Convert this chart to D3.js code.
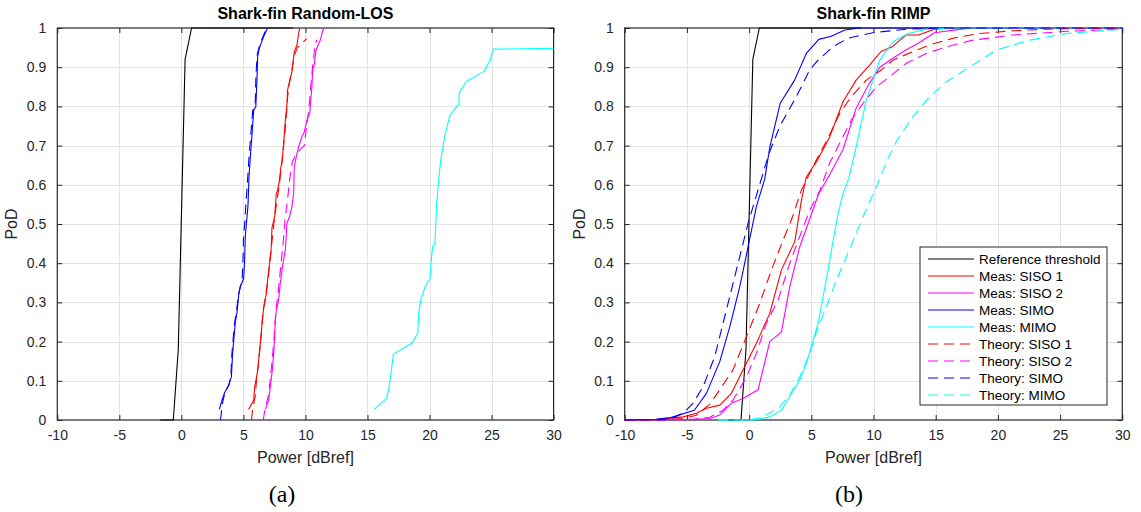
<!DOCTYPE html>
<html>
<head>
<meta charset="utf-8">
<script src="https://cdn.jsdelivr.net/npm/d3@7"></script>
<style>
  html, body { margin: 0; padding: 0; background: #fff; }
  svg { display: block; font-family: "Liberation Sans", Arial, Helvetica, sans-serif; }
</style>
</head>
<body>
<svg id="fig" width="1141" height="512"></svg>
<script>
// ---- axis ticks ----
const ticksX = [-10, -5, 0, 5, 10, 15, 20, 25, 30];
const tickLabelsX = ["-10", "-5", "0", "5", "10", "15", "20", "25", "30"];
const ticksY = [0, 0.1, 0.2, 0.3, 0.4, 0.5, 0.6, 0.7, 0.8, 0.9, 1];
const tickLabelsY = ["0", "0.1", "0.2", "0.3", "0.4", "0.5", "0.6", "0.7", "0.8", "0.9", "1"];

// ---- reference threshold (both panels) ----
const refX = [-1.7, -0.65, -0.25, 0.3, 0.82, 9];
const refP = [0, 0, 0.18, 0.92, 1, 1];

// ---- panel (a): Random-LOS, measured ----
const losSiso1X = [5.42, 5.83, 5.91, 6.04, 6.15, 6.31, 6.44, 6.52, 6.63, 6.85, 6.95, 7.11, 7.22, 7.3, 7.52, 7.65, 7.76, 7.87, 8.03, 8.13, 8.24, 8.38, 8.51, 8.56, 8.72, 8.91, 9.1, 9.32, 9.45, 9.53];
const losSiso1P = [0.027, 0.051, 0.085, 0.106, 0.128, 0.179, 0.221, 0.255, 0.285, 0.323, 0.357, 0.40, 0.425, 0.49, 0.519, 0.578, 0.587, 0.604, 0.646, 0.663, 0.706, 0.765, 0.804, 0.842, 0.863, 0.889, 0.94, 0.957, 0.986, 1.0];
const losSiso2X = [6.77, 7.03, 7.17, 7.33, 7.44, 7.52, 7.57, 7.65, 7.84, 7.97, 8.19, 8.38, 8.51, 8.72, 8.91, 9.05, 9.1, 9.26, 9.45, 9.72, 9.91, 10.12, 10.34, 10.52, 10.58, 10.71, 10.85, 11.19, 11.41, 11.5];
const losSiso2P = [0.027, 0.05, 0.085, 0.128, 0.17, 0.213, 0.255, 0.28, 0.306, 0.349, 0.4, 0.434, 0.502, 0.519, 0.544, 0.578, 0.646, 0.672, 0.697, 0.723, 0.735, 0.765, 0.782, 0.85, 0.893, 0.906, 0.944, 0.969, 0.995, 1.0];
const losSimoX = [3.06, 3.28, 3.46, 3.81, 4.03, 4.13, 4.21, 4.35, 4.48, 4.62, 4.75, 5.02, 5.1, 5.15, 5.29, 5.37, 5.45, 5.56, 5.66, 5.83, 6.0, 6.09, 6.15, 6.28, 6.63, 6.95];
const losSimoP = [0.027, 0.051, 0.068, 0.089, 0.11, 0.17, 0.2, 0.25, 0.274, 0.319, 0.34, 0.361, 0.408, 0.468, 0.519, 0.548, 0.62, 0.672, 0.714, 0.79, 0.8, 0.867, 0.927, 0.948, 0.978, 1.0];
const losMimoX = [15.54, 16.55, 16.77, 17.09, 18.57, 19.05, 19.13, 19.29, 19.64, 20.04, 20.12, 20.25, 20.44, 20.58, 20.71, 20.9, 21.25, 21.65, 22.18, 22.37, 22.4, 22.94, 24.41, 24.87, 25.13, 30];
const losMimoP = [0.027, 0.055, 0.089, 0.168, 0.196, 0.221, 0.272, 0.306, 0.34, 0.361, 0.4, 0.442, 0.451, 0.553, 0.604, 0.663, 0.727, 0.778, 0.799, 0.806, 0.835, 0.863, 0.89, 0.917, 0.946, 0.948];

// ---- panel (a): Random-LOS, theory ----
const losThSiso1X = [5.65, 5.75, 5.95, 6.05, 6.2, 6.35, 6.5, 6.6, 6.8, 7.0, 7.1, 7.25, 7.45, 7.7, 7.9, 8.0, 8.15, 8.3, 8.45, 8.55, 8.7, 8.95, 9.1, 9.35, 10.1];
const losThSiso1P = [0, 0.03, 0.06, 0.1, 0.14, 0.19, 0.24, 0.28, 0.32, 0.36, 0.40, 0.44, 0.5, 0.56, 0.6, 0.63, 0.67, 0.72, 0.77, 0.82, 0.86, 0.9, 0.93, 0.95, 0.973];
const losThSiso2X = [6.6, 6.75, 7.0, 7.15, 7.3, 7.45, 7.55, 7.7, 7.85, 8.0, 8.2, 8.35, 8.55, 8.75, 8.95, 9.3, 9.9, 10.1, 10.3, 10.45, 10.6, 10.75, 10.9];
const losThSiso2P = [0, 0.03, 0.06, 0.1, 0.15, 0.2, 0.25, 0.3, 0.34, 0.39, 0.45, 0.51, 0.56, 0.62, 0.66, 0.68, 0.7, 0.75, 0.8, 0.86, 0.91, 0.95, 0.97];
const losThSimoX = [3.15, 3.3, 3.5, 3.85, 4.0, 4.05, 4.15, 4.3, 4.45, 4.6, 4.9, 4.98, 5.0, 5.1, 5.2, 5.35, 5.45, 5.55, 5.75, 5.95, 6.0, 6.1, 6.25, 6.6, 6.9];
const losThSimoP = [0.0, 0.04, 0.07, 0.09, 0.12, 0.16, 0.2, 0.25, 0.28, 0.32, 0.36, 0.42, 0.46, 0.5, 0.55, 0.62, 0.67, 0.71, 0.79, 0.8, 0.87, 0.93, 0.95, 0.98, 1.0];

// ---- panel (b): RIMP, measured ----
const rimpSiso1X = [-10, -7.5, -5.3, -4.24, -3.43, -2.36, -1.42, -0.48, 0.59, 1.66, 2.6, 3.67, 4.21, 4.6, 5.5, 6.45, 7.55, 8.6, 9.7, 10.6, 11.5, 12.6, 13.6, 14.9, 16.5, 30];
const rimpSiso1P = [0, 0.001, 0.008, 0.017, 0.03, 0.038, 0.068, 0.128, 0.196, 0.272, 0.383, 0.455, 0.561, 0.62, 0.663, 0.72, 0.812, 0.867, 0.906, 0.94, 0.952, 0.982, 0.982, 0.997, 1.0, 1.0];
const rimpSiso2X = [-10, -4.5, -3.16, -2.36, -1.42, -0.48, 0.72, 1.66, 2.6, 3.27, 4.07, 4.75, 5.55, 6.55, 7.55, 8.6, 9.6, 10.5, 11.55, 12.6, 13.6, 14.9, 17.5, 30];
const rimpSiso2P = [0, 0.001, 0.004, 0.013, 0.043, 0.055, 0.077, 0.2, 0.225, 0.34, 0.442, 0.502, 0.574, 0.63, 0.69, 0.795, 0.855, 0.9, 0.923, 0.944, 0.961, 0.988, 0.999, 1.0];
const rimpSimoX = [-10, -7.5, -6.3, -4.4, -3.43, -2.36, -1.55, -0.75, -0.08, 0.59, 1.26, 1.67, 2.5, 3.66, 4.6, 5.6, 6.6, 7.7, 8.9, 30];
const rimpSimoP = [0, 0.002, 0.006, 0.025, 0.068, 0.149, 0.238, 0.34, 0.442, 0.545, 0.615, 0.697, 0.808, 0.867, 0.935, 0.971, 0.979, 0.995, 1.0, 1.0];
const rimpMimoX = [-2.5, 0.46, 1.67, 2.6, 3.27, 4.07, 4.61, 5.15, 5.55, 5.95, 6.35, 6.76, 7.16, 7.56, 8.0, 8.49, 9.42, 10.5, 11.57, 12.78, 14.25, 16.4, 30];
const rimpMimoP = [0, 0, 0.008, 0.025, 0.06, 0.102, 0.145, 0.204, 0.247, 0.315, 0.383, 0.459, 0.527, 0.578, 0.615, 0.68, 0.816, 0.918, 0.965, 0.986, 0.997, 1.0, 1.0];

// ---- panel (b): RIMP, theory ----
const rimpThSiso1X = [-10, -6.5, -5.3, -4.24, -3.17, -2.36, -1.29, -0.21, 0.86, 1.8, 2.73, 3.4, 4.21, 5.4, 6.47, 7.28, 8.22, 9.42, 10.63, 11.57, 13.18, 14.52, 16.39, 18.54, 21.2, 23.9, 30];
const rimpThSiso1P = [0, 0.001, 0.004, 0.012, 0.04, 0.077, 0.128, 0.213, 0.298, 0.383, 0.459, 0.51, 0.587, 0.663, 0.727, 0.782, 0.825, 0.867, 0.893, 0.918, 0.94, 0.957, 0.974, 0.986, 0.993, 0.997, 1.0];
const rimpThSiso2X = [-10, -4.5, -3.16, -2.09, -1.29, -0.21, 0.59, 1.39, 2.33, 3.27, 4.07, 4.88, 5.68, 6.47, 7.41, 8.22, 9.16, 10.23, 11.3, 12.64, 14.25, 15.86, 18.0, 21.2, 25.2, 30];
const rimpThSiso2P = [0, 0.002, 0.007, 0.025, 0.051, 0.11, 0.17, 0.247, 0.306, 0.4, 0.468, 0.536, 0.585, 0.655, 0.714, 0.765, 0.808, 0.85, 0.876, 0.91, 0.935, 0.952, 0.969, 0.982, 0.991, 0.997];
const rimpThSimoX = [-10, -7, -6.2, -5.2, -4.5, -3.7, -2.76, -2.09, -1.42, -0.75, -0.08, 0.72, 1.6, 2.45, 3.8, 4.87, 5.54, 6.74, 7.95, 9.96, 12.6, 16, 30];
const rimpThSimoP = [0, 0.001, 0.004, 0.02, 0.043, 0.085, 0.162, 0.247, 0.332, 0.417, 0.502, 0.587, 0.68, 0.748, 0.825, 0.893, 0.918, 0.952, 0.974, 0.988, 0.997, 1.0, 1.0];
const rimpThMimoX = [-2.5, 0.0, 0.8, 1.66, 2.47, 3.27, 4.07, 4.88, 5.42, 6.22, 7.02, 7.83, 8.6, 9.5, 10.3, 11.1, 11.9, 13.18, 14.52, 15.86, 18.0, 19.88, 22.56, 25.5, 30];
const rimpThMimoP = [0, 0, 0.005, 0.017, 0.034, 0.064, 0.11, 0.17, 0.225, 0.289, 0.357, 0.417, 0.476, 0.544, 0.6, 0.663, 0.714, 0.774, 0.825, 0.863, 0.906, 0.944, 0.969, 0.986, 0.997];

// ---- legend entries ----
const legendLabels = ["Reference threshold", "Meas: SISO 1", "Meas: SISO 2", "Meas: SIMO", "Meas: MIMO",
                      "Theory: SISO 1", "Theory: SISO 2", "Theory: SIMO", "Theory: MIMO"];

const colors = { ref: "#000000", siso1: "#ff0000", siso2: "#ff00ff", simo: "#0000ff", mimo: "#00ffff" };
const legendColors = [colors.ref, colors.siso1, colors.siso2, colors.simo, colors.mimo,
                      colors.siso1, colors.siso2, colors.simo, colors.mimo];
const legendDashed = [false, false, false, false, false, true, true, true, true];
const DASH = "10,6";
const AXIS_COLOR = "#262626";
const GRID_COLOR = "#e3e3e3";

const svg = d3.select("#fig");
svg.append("rect").attr("width", 1141).attr("height", 512).attr("fill", "#fff");

const zip = (xs, ps) => xs.map((x, i) => [x, ps[i]]);

function drawPanel(opts) {
  const { left, right, top, bottom, title, caption, captionX, series, legend } = opts;
  const x = d3.scaleLinear().domain([-10, 30]).range([left, right]);
  const y = d3.scaleLinear().domain([0, 1]).range([bottom, top]);
  const g = svg.append("g");

  // grid
  g.append("g").selectAll("line").data(ticksX.slice(1, -1)).join("line")
    .attr("x1", d => Math.round(x(d)) + 0.5).attr("x2", d => Math.round(x(d)) + 0.5)
    .attr("y1", top).attr("y2", bottom)
    .attr("stroke", GRID_COLOR).attr("stroke-width", 1);
  g.append("g").selectAll("line").data(ticksY.slice(1, -1)).join("line")
    .attr("y1", d => Math.round(y(d)) + 0.5).attr("y2", d => Math.round(y(d)) + 0.5)
    .attr("x1", left).attr("x2", right)
    .attr("stroke", GRID_COLOR).attr("stroke-width", 1);

  // axes (bottom/left with labels, top/right mirrored ticks)
  const tickLen = 5;
  const xAxisB = d3.axisBottom(x).tickValues(ticksX).tickSizeInner(-tickLen).tickSizeOuter(0).tickPadding(10)
    .tickFormat((d, i) => tickLabelsX[i]);
  const xAxisT = d3.axisTop(x).tickValues(ticksX).tickSizeInner(-tickLen).tickSizeOuter(0).tickFormat("");
  const yAxisL = d3.axisLeft(y).tickValues(ticksY).tickSizeInner(-tickLen).tickSizeOuter(0).tickPadding(11)
    .tickFormat((d, i) => tickLabelsY[i]);
  const yAxisR = d3.axisRight(y).tickValues(ticksY).tickSizeInner(-tickLen).tickSizeOuter(0).tickFormat("");

  const styleAxis = sel => {
    sel.select(".domain").remove();
    sel.selectAll("line").attr("stroke", AXIS_COLOR).attr("stroke-width", 1);
    sel.selectAll("text").attr("fill", AXIS_COLOR).style("font-size", "14px")
      .style("font-family", "'Liberation Sans', Arial, sans-serif");
  };
  g.append("g").attr("transform", `translate(0,${bottom})`).call(xAxisB).call(styleAxis);
  g.append("g").attr("transform", `translate(0,${top})`).call(xAxisT).call(styleAxis);
  g.append("g").attr("transform", `translate(${left},0)`).call(yAxisL).call(styleAxis);
  g.append("g").attr("transform", `translate(${right},0)`).call(yAxisR).call(styleAxis);

  // box
  g.append("rect").attr("x", left).attr("y", top).attr("width", right - left).attr("height", bottom - top)
    .attr("fill", "none").attr("stroke", AXIS_COLOR).attr("stroke-width", 1.2);

  // series
  const line = d3.line().x(d => x(d[0])).y(d => y(d[1]));
  series.forEach(s => {
    g.append("path").datum(zip(s.x, s.p)).attr("d", line)
      .attr("fill", "none").attr("stroke", s.color).attr("stroke-width", 1.1)
      .attr("stroke-linejoin", "round")
      .attr("stroke-dasharray", s.dashed ? DASH : null);
  });

  // title & labels
  svg.append("text").attr("x", (left + right) / 2).attr("y", 19).attr("text-anchor", "middle")
    .style("font-size", "16px").style("font-weight", "bold").attr("fill", "#000").text(title);
  svg.append("text").attr("x", (left + right) / 2).attr("y", 463).attr("text-anchor", "middle")
    .style("font-size", "16px").attr("fill", AXIS_COLOR).text("Power [dBref]");
  svg.append("text").attr("transform", `translate(${left - 40},${(top + bottom) / 2}) rotate(-90)`)
    .attr("text-anchor", "middle").style("font-size", "16px").attr("fill", AXIS_COLOR).text("PoD");
  svg.append("text").attr("x", captionX).attr("y", 502).attr("text-anchor", "middle")
    .style("font-family", "'Liberation Serif', 'DejaVu Serif', serif").style("font-size", "24px")
    .attr("fill", "#000").text(caption);

  if (legend) {
    const lg = svg.append("g");
    const bx = 920, by = 247, bw = 187, bh = 158, row = 17;
    lg.append("rect").attr("x", bx).attr("y", by).attr("width", bw).attr("height", bh)
      .attr("fill", "#fff").attr("stroke", AXIS_COLOR).attr("stroke-width", 1);
    legendLabels.forEach((lab, i) => {
      const cy = by + 12 + i * row;
      lg.append("line").attr("x1", bx + 8).attr("x2", bx + 54).attr("y1", cy).attr("y2", cy)
        .attr("stroke", legendColors[i]).attr("stroke-width", 1.1)
        .attr("stroke-dasharray", legendDashed[i] ? DASH : null);
      lg.append("text").attr("x", bx + 59).attr("y", cy + 5).style("font-size", "13.5px")
        .attr("fill", "#000").text(lab);
    });
  }
}

drawPanel({
  left: 57.3, right: 553.6, top: 28, bottom: 420,
  title: "Shark-fin Random-LOS", caption: "(a)", captionX: 282,
  series: [
    { x: refX, p: refP, color: colors.ref },
    { x: losSiso1X, p: losSiso1P, color: colors.siso1 },
    { x: losSiso2X, p: losSiso2P, color: colors.siso2 },
    { x: losSimoX, p: losSimoP, color: colors.simo },
    { x: losMimoX, p: losMimoP, color: colors.mimo },
    { x: losThSiso1X, p: losThSiso1P, color: colors.siso1, dashed: true },
    { x: losThSiso2X, p: losThSiso2P, color: colors.siso2, dashed: true },
    { x: losThSimoX, p: losThSimoP, color: colors.simo, dashed: true }
  ],
  legend: false
});

drawPanel({
  left: 624.7, right: 1122.3, top: 28, bottom: 420,
  title: "Shark-fin RIMP", caption: "(b)", captionX: 849,
  series: [
    { x: refX, p: refP, color: colors.ref },
    { x: rimpSiso1X, p: rimpSiso1P, color: colors.siso1 },
    { x: rimpSiso2X, p: rimpSiso2P, color: colors.siso2 },
    { x: rimpSimoX, p: rimpSimoP, color: colors.simo },
    { x: rimpMimoX, p: rimpMimoP, color: colors.mimo },
    { x: rimpThSiso1X, p: rimpThSiso1P, color: colors.siso1, dashed: true },
    { x: rimpThSiso2X, p: rimpThSiso2P, color: colors.siso2, dashed: true },
    { x: rimpThSimoX, p: rimpThSimoP, color: colors.simo, dashed: true },
    { x: rimpThMimoX, p: rimpThMimoP, color: colors.mimo, dashed: true }
  ],
  legend: true
});
</script>
</body>
</html>
